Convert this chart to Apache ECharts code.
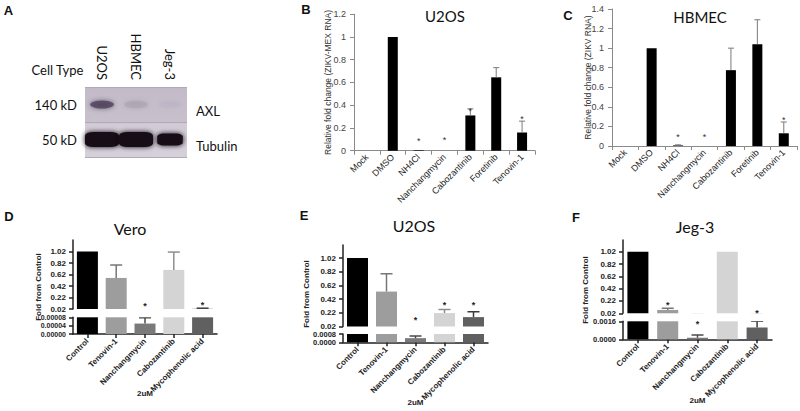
<!DOCTYPE html>
<html><head><meta charset="utf-8">
<script src="https://cdn.jsdelivr.net/npm/echarts@6.0.0/dist/echarts.min.js"></script>
<style>html,body{margin:0;padding:0;background:#fff}#chart{width:800px;height:411px}</style>
</head><body><div id="chart"></div>
<script>
// ---------- Panel A (western blot) ----------
const blotLanes = ['U2OS', 'HBMEC', 'Jeg-3'];
const blotRows = ['Tubulin', 'AXL'];          // bottom to top
const blotMarkers = ['50 kD', '140 kD'];
const axlIntensity = [0.72, 0.1, 0.02];
const tubulinIntensity = [1.0, 1.0, 0.65];

// ---------- Panel B (U2OS, ZIKV-MEX RNA) ----------
const bcCategories = ['Mock', 'DMSO', 'NH4Cl', 'Nanchangmycin', 'Cabozantinib', 'Foretinib', 'Tenovin-1'];
const bValues = [0, 1.0, 0.005, 0, 0.31, 0.645, 0.16];
const bErrTop = [null, null, null, null, 0.368, 0.73, 0.26];
const bStars = [null, null, 0.10, 0.11, 0.365, null, 0.30];

// ---------- Panel C (HBMEC, ZIKV RNA) ----------
const cValues = [0, 1.0, 0.006, 0, 0.775, 1.04, 0.13];
const cErrTop = [null, null, 0.012, null, 1.0, 1.29, 0.245];
const cStars = [null, null, 0.112, 0.112, null, null, 0.283];

// ---------- Panels D/E/F (fold from control, 2uM) ----------
const drugCategories = ['Control', 'Tenovin-1', 'Nanchangmycin', 'Cabozantinib', 'Mycophenolic acid'];
const upperTicks = [0.02, 0.22, 0.42, 0.62, 0.82, 1.02];

const veroValues = [1.02, 0.56, 0.00005, 0.70, 0.024];
const veroErrTop = [null, 0.785, 0.000078, 1.01, 0.034];
const veroStarsUpper = [null, null, 0.107, null, 0.124];
const veroStarsLower = [null, null, null, null, null];
const veroLowerTicks = [0, 0.00004, 0.00008];

const u2osValues = [1.02, 0.53, 0.0004, 0.216, 0.157];
const u2osErrTop = [null, 0.79, 0.0006, 0.27, 0.235];
const u2osStarsUpper = [null, null, 0.14, 0.37, 0.36];
const u2osStarsLower = [null, null, null, null, null];
const u2osLowerTicks = [0, 0.0008];

const jegValues = [1.02, 0.075, 0.00014, 1.02, 0.00105];
const jegErrTop = [null, 0.10, 0.00038, null, 0.0016];
const jegStarsUpper = [null, 0.19, null, null, 0.062];
const jegStarsLower = [null, null, 0.0015, null, null];
const jegLowerTicks = [0, 0.0016];

// ---------- styles ----------
const AR = 'Liberation Sans, Arial, sans-serif';
const CAL = 'Lato, Carlito, sans-serif';
const drugColors = ['#000000', '#9d9d9d', '#7a7a7a', '#d4d4d4', '#606060'];
const drugErrColors = ['#000000', '#777777', '#4a4a4a', '#8e8e8e', '#3a3a3a'];

function gridBox(left, top, width, height, extra) {
  return Object.assign({ left, top, width, height, containLabel: false, outerBoundsMode: 'none' }, extra || {});
}

function barSeries(xi, yi, values, colors, barWidth) {
  return {
    type: 'bar', xAxisIndex: xi, yAxisIndex: yi, barWidth, clip: true, silent: true, z: 2,
    data: values.map((v, i) => ({ value: v, itemStyle: { color: Array.isArray(colors) ? colors[i] : colors } }))
  };
}

function errSeries(xi, yi, values, errTop, colors, lw, cap) {
  const data = values.map((v, i) => errTop[i] == null ? null : [i, v, errTop[i]]).filter(Boolean);
  return {
    type: 'custom', xAxisIndex: xi, yAxisIndex: yi, clip: true, silent: true, z: 3, data,
    renderItem(params, api) {
      const i = api.value(0);
      const p0 = api.coord([i, api.value(1)]);
      const p1 = api.coord([i, api.value(2)]);
      const c = Array.isArray(colors) ? colors[i] : colors;
      return { type: 'group', children: [
        { type: 'line', shape: { x1: p0[0], y1: p0[1], x2: p1[0], y2: p1[1] }, style: { stroke: c, lineWidth: lw } },
        { type: 'line', shape: { x1: p1[0] - cap, y1: p1[1], x2: p1[0] + cap, y2: p1[1] }, style: { stroke: c, lineWidth: lw } }
      ] };
    }
  };
}

function starSeries(xi, yi, stars, size, weight, color) {
  const data = stars.map((s, i) => s == null ? null : [i, s]).filter(Boolean);
  return {
    type: 'custom', xAxisIndex: xi, yAxisIndex: yi, silent: true, z: 4, data,
    renderItem(params, api) {
      const p = api.coord([api.value(0), api.value(1)]);
      return { type: 'text', style: { x: p[0], y: p[1] + size * 0.22, text: '*', fontSize: size, fontFamily: AR, fontWeight: weight, fill: color, align: 'center', verticalAlign: 'middle' } };
    }
  };
}

// Excel-style axes for B and C
function excelX(gi) {
  return {
    type: 'category', gridIndex: gi, data: bcCategories,
    axisLine: { show: true, lineStyle: { color: '#8a8a8a', width: 1 } },
    axisTick: { show: true, length: 4, lineStyle: { color: '#8a8a8a' } },
    axisLabel: { interval: 0, rotate: 45, fontSize: 9, fontFamily: AR, color: '#222', margin: 5 },
    splitLine: { show: false }
  };
}
function excelY(gi, max, name, nameGap) {
  return {
    type: 'value', gridIndex: gi, min: 0, max, interval: 0.2,
    name, nameLocation: 'middle', nameGap, nameMoveOverlap: false,
    nameTextStyle: { fontSize: 8.5, fontFamily: AR, color: '#333' },
    axisLine: { show: true, lineStyle: { color: '#8a8a8a', width: 1 } },
    axisTick: { show: true, length: 4, lineStyle: { color: '#8a8a8a' } },
    axisLabel: { fontSize: 9, fontFamily: AR, color: '#444', margin: 8 },
    splitLine: { show: false }
  };
}

// Prism-style broken axes for D, E, F
const prismLine = { show: true, lineStyle: { color: '#222', width: 1.5 } };
const prismTick = { show: true, length: 4, lineStyle: { color: '#222', width: 1.5 } };
function prismXUpper(gi) {
  return { type: 'category', gridIndex: gi, data: drugCategories, show: false };
}
function prismXLower(gi, nameGap) {
  return {
    type: 'category', gridIndex: gi, data: drugCategories,
    name: '2uM', nameLocation: 'middle', nameGap, nameMoveOverlap: false,
    nameTextStyle: { fontSize: 8, fontWeight: 'bold', fontFamily: AR, color: '#222' },
    axisLine: prismLine,
    axisTick: Object.assign({ alignWithLabel: true }, prismTick),
    axisLabel: { interval: 0, rotate: 45, fontSize: 8, fontWeight: 'bold', fontFamily: AR, color: '#222', margin: 6 },
    splitLine: { show: false }
  };
}
function prismY(gi, min, max, ticks, digits, size) {
  return {
    type: 'value', gridIndex: gi, min, max,
    axisLine: prismLine,
    axisTick: Object.assign({ customValues: ticks }, prismTick),
    axisLabel: { customValues: ticks, fontSize: size, fontWeight: 'bold', fontFamily: AR, color: '#222', margin: 7,
      formatter: v => Number(v).toFixed(digits) },
    splitLine: { show: false }
  };
}

// blot bands
const bandData = [];
blotLanes.forEach((lane, i) => {
  const t = tubulinIntensity[i];
  bandData.push({
    value: [i, 0, t], symbol: 'roundRect', symbolSize: [10 + 24 * t, 6 + 9 * t],
    itemStyle: { color: '#141016', opacity: Math.min(1, 0.35 + t), shadowBlur: 5, shadowColor: '#141016' }
  });
  const a = axlIntensity[i];
  bandData.push({
    value: [i, 1, a], symbol: 'circle', symbolSize: [24, 8],
    itemStyle: { color: '#4a3a56', opacity: a, shadowBlur: 5, shadowColor: '#4a3a56' }
  });
});

const letter = (t, x, y) => ({ type: 'text', x, y, style: { text: t, fontSize: 13, fontWeight: 'bold', fontFamily: AR, fill: '#111', align: 'center', verticalAlign: 'middle' } });
const titleText = (t, x, y, size) => ({ type: 'text', x, y, style: { text: t, fontSize: size, fontFamily: CAL, fill: '#111', align: 'center', verticalAlign: 'middle' } });
const foldName = (x, y) => ({ type: 'text', x, y, rotation: Math.PI / 2, style: { text: 'Fold from Control', fontSize: 8, fontWeight: 'bold', fontFamily: AR, fill: '#222', align: 'center', verticalAlign: 'middle' } });

const option = {
  animation: false,
  backgroundColor: '#ffffff',
  grid: [
    gridBox(85, 87, 102, 70, { show: true, borderWidth: 0,
      backgroundColor: { type: 'linear', x: 0, y: 0, x2: 0, y2: 1, colorStops: [
        { offset: 0, color: '#c2bac8' }, { offset: 0.5, color: '#c8c1cc' },
        { offset: 0.53, color: '#d1cbd5' }, { offset: 1, color: '#d5d0d9' }] } }),
    gridBox(354, 14.2, 181, 136.5),
    gridBox(612, 9, 185, 137),
    gridBox(73, 240, 144, 69),
    gridBox(73, 317.3, 144, 16.7),
    gridBox(343, 245, 145, 81.5),
    gridBox(343, 334, 145, 8.3),
    gridBox(623, 240, 149, 73.3),
    gridBox(623, 321.3, 149, 18)
  ],
  xAxis: [
    { type: 'category', gridIndex: 0, data: blotLanes, position: 'top',
      axisLine: { show: false }, axisTick: { show: false }, splitLine: { show: false },
      axisLabel: { interval: 0, rotate: 90, fontSize: 13, fontFamily: CAL, color: '#111', margin: 7 } },
    excelX(1),
    excelX(2),
    prismXUpper(3), prismXLower(4, 55),
    prismXUpper(5), prismXLower(6, 56),
    prismXUpper(7), prismXLower(8, 57)
  ],
  yAxis: [
    { type: 'category', gridIndex: 0, data: blotMarkers,
      axisLine: { show: false }, axisTick: { show: false },
      splitLine: { show: true, lineStyle: { color: '#b3aab8', width: 1 } },
      axisLabel: { fontSize: 13, fontFamily: CAL, color: '#111', margin: 8 } },
    { type: 'category', gridIndex: 0, data: blotRows, position: 'right',
      axisLine: { show: false }, axisTick: { show: false }, splitLine: { show: false },
      axisLabel: { fontSize: 13, fontFamily: CAL, color: '#111', margin: 9, verticalAlign: 'top' } },
    excelY(1, 1.2, 'Relative fold change (ZIKV-MEX RNA)', 22),
    excelY(2, 1.4, 'Relative fold change (ZIKV RNA)', 20),
    prismY(3, 0.02, 1.22, upperTicks, 2, 8), prismY(4, 0, 0.00008, veroLowerTicks, 5, 7),
    prismY(5, 0.02, 1.21, upperTicks, 2, 8), prismY(6, 0, 0.0008, u2osLowerTicks, 4, 7.5),
    prismY(7, 0.02, 1.21, upperTicks, 2, 8), prismY(8, 0, 0.0016, jegLowerTicks, 4, 7.5)
  ],
  series: [
    { type: 'scatter', xAxisIndex: 0, yAxisIndex: 0, silent: true, data: bandData },
    // B
    barSeries(1, 2, bValues, '#000000', 10),
    errSeries(1, 2, bValues, bErrTop, '#7a7a7a', 1, 3),
    starSeries(1, 2, bStars, 9, 'normal', '#333'),
    // C
    barSeries(2, 3, cValues, '#000000', 10),
    errSeries(2, 3, cValues, cErrTop, '#7a7a7a', 1, 3),
    starSeries(2, 3, cStars, 9, 'normal', '#333'),
    // D
    barSeries(3, 4, veroValues, drugColors, 21), errSeries(3, 4, veroValues, veroErrTop, drugErrColors, 1.5, 6),
    starSeries(3, 4, veroStarsUpper, 9, 'bold', '#222'),
    barSeries(4, 5, veroValues, drugColors, 21), errSeries(4, 5, veroValues, veroErrTop, drugErrColors, 1.5, 6),
    starSeries(4, 5, veroStarsLower, 9, 'bold', '#222'),
    // E
    barSeries(5, 6, u2osValues, drugColors, 21), errSeries(5, 6, u2osValues, u2osErrTop, drugErrColors, 1.5, 6),
    starSeries(5, 6, u2osStarsUpper, 9, 'bold', '#222'),
    barSeries(6, 7, u2osValues, drugColors, 21), errSeries(6, 7, u2osValues, u2osErrTop, drugErrColors, 1.5, 6),
    starSeries(6, 7, u2osStarsLower, 9, 'bold', '#222'),
    // F
    barSeries(7, 8, jegValues, drugColors, 21), errSeries(7, 8, jegValues, jegErrTop, drugErrColors, 1.5, 6),
    starSeries(7, 8, jegStarsUpper, 9, 'bold', '#222'),
    barSeries(8, 9, jegValues, drugColors, 21), errSeries(8, 9, jegValues, jegErrTop, drugErrColors, 1.5, 6),
    starSeries(8, 9, jegStarsLower, 9, 'bold', '#222')
  ],
  graphic: [
    letter('A', 8.5, 10), letter('B', 306, 9), letter('C', 568, 15),
    letter('D', 9, 216), letter('E', 304, 215), letter('F', 576, 217),
    { type: 'text', x: 57.5, y: 70, style: { text: 'Cell Type', fontSize: 13, fontFamily: CAL, fill: '#111', align: 'center', verticalAlign: 'middle' } },
    titleText('U2OS', 445, 16, 15), titleText('HBMEC', 700, 17, 15),
    titleText('Vero', 130, 228, 16), titleText('U2OS', 414, 225, 16), titleText('Jeg-3', 695, 226, 16),
    foldName(38, 287), foldName(306, 294), foldName(585, 290)
  ]
};

const chart = echarts.init(document.getElementById('chart'), null, { renderer: 'svg', width: 800, height: 411 });
chart.setOption(option);
</script></body></html>
